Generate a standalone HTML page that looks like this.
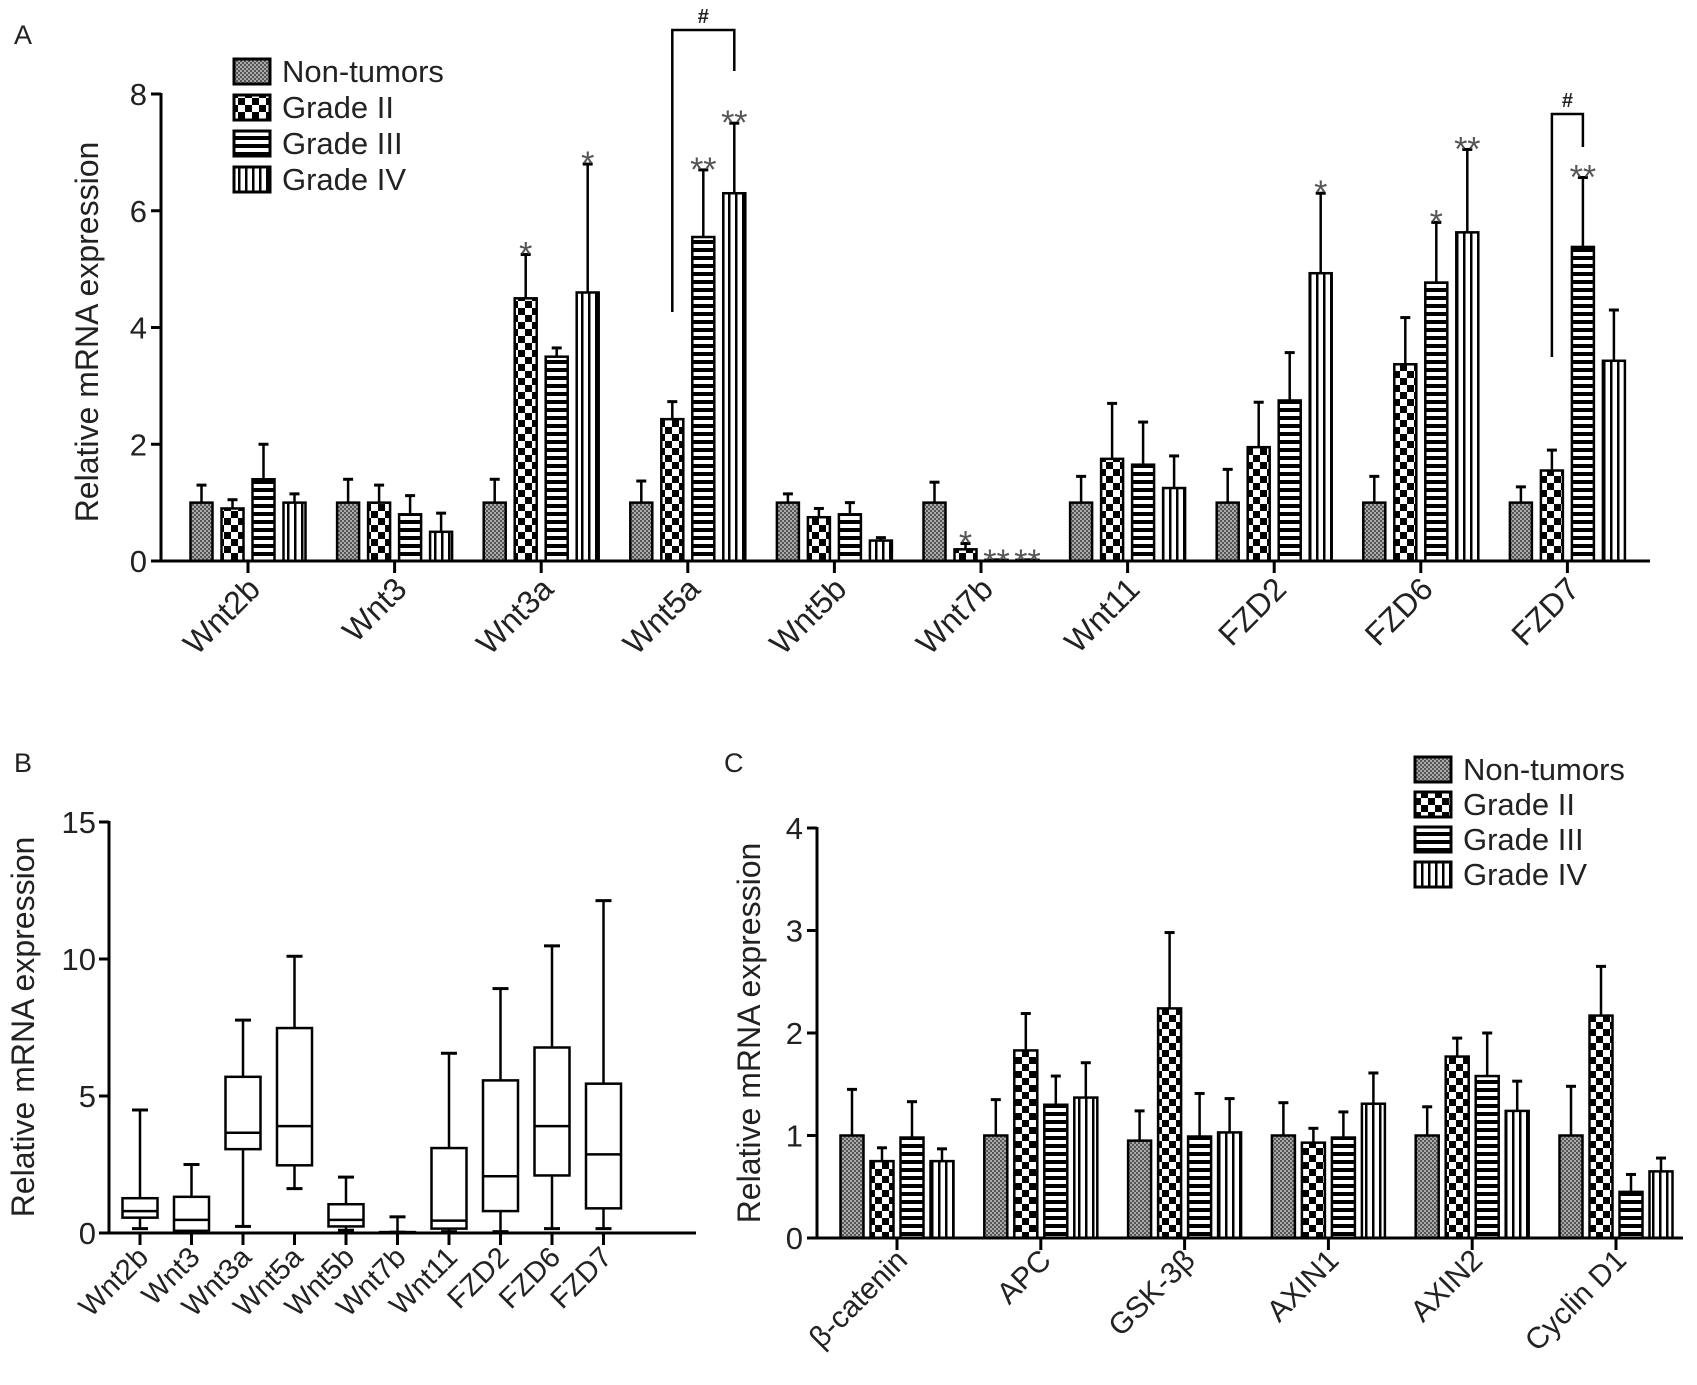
<!DOCTYPE html>
<html><head><meta charset="utf-8"><style>
html,body{margin:0;padding:0;background:#fff;overflow:hidden}
svg{display:block;font-family:"Liberation Sans",sans-serif}
</style></head><body>
<svg id="fig" width="1697" height="1385" viewBox="0 0 1697 1385" xmlns="http://www.w3.org/2000/svg">
<defs>
<pattern id="pNon" width="4" height="4" patternUnits="userSpaceOnUse"><rect width="4" height="4" fill="#aaa"/><rect width="2" height="2" fill="#555"/><rect x="2" y="2" width="2" height="2" fill="#555"/></pattern>
<pattern id="pG2" width="14" height="14" patternUnits="userSpaceOnUse"><rect width="14" height="14" fill="#fff"/><rect width="7" height="7" fill="#000"/><rect x="7" y="7" width="7" height="7" fill="#000"/></pattern>
<pattern id="pG3" width="8" height="8" patternUnits="userSpaceOnUse"><rect width="8" height="8" fill="#fff"/><rect y="0" width="8" height="4" fill="#000"/></pattern>
<pattern id="pG4" width="7" height="7" patternUnits="userSpaceOnUse"><rect width="7" height="7" fill="#fff"/><rect x="0" width="2.5" height="7" fill="#000"/></pattern>
</defs>
</svg>
<script>
// ---------- Panel A data ----------
const aCategories = ["Wnt2b","Wnt3","Wnt3a","Wnt5a","Wnt5b","Wnt7b","Wnt11","FZD2","FZD6","FZD7"];
const aNonTumors = [1.0,1.0,1.0,1.0,1.0,1.0,1.0,1.0,1.0,1.0];
const aNonTumorsErr = [1.3,1.4,1.4,1.37,1.15,1.35,1.45,1.57,1.45,1.27];
const aGrade2 = [0.9,1.0,4.5,2.43,0.75,0.2,1.75,1.95,3.37,1.55];
const aGrade2Err = [1.05,1.3,5.25,2.73,0.9,0.3,2.7,2.72,4.17,1.9];
const aGrade3 = [1.4,0.8,3.5,5.55,0.8,0.02,1.65,2.75,4.77,5.38];
const aGrade3Err = [2.0,1.12,3.65,6.7,1.0,0.02,2.38,3.57,5.8,6.57];
const aGrade4 = [1.0,0.5,4.6,6.3,0.35,0.02,1.25,4.93,5.63,3.43];
const aGrade4Err = [1.15,0.82,6.8,7.5,0.4,0.02,1.8,6.3,7.05,4.3];
const aStars2 = ["","","*","","","*","","","",""];
const aStars3 = ["","","","**","","**","","","*","**"];
const aStars4 = ["","","*","**","","**","","*","**",""];
const aTicks = [0,2,4,6,8];
// ---------- Panel B data ----------
const bCategories = ["Wnt2b","Wnt3","Wnt3a","Wnt5a","Wnt5b","Wnt7b","Wnt11","FZD2","FZD6","FZD7"];
const bMin = [0.16,0.02,0.24,1.62,0.1,0.03,0.05,0.05,0.16,0.16];
const bQ1 = [0.56,0.08,3.06,2.47,0.24,0.03,0.16,0.8,2.1,0.9];
const bMed = [0.8,0.48,3.66,3.9,0.48,0.03,0.45,2.07,3.9,2.87];
const bQ3 = [1.27,1.32,5.7,7.48,1.05,0.03,3.1,5.57,6.77,5.45];
const bMax = [4.49,2.5,7.77,10.1,2.04,0.59,6.56,8.92,10.48,12.13];
const bTicks = [0,5,10,15];
// ---------- Panel C data ----------
const cCategories = ["β-catenin","APC","GSK-3β","AXIN1","AXIN2","Cyclin D1"];
const cNonTumors = [1.0,1.0,0.95,1.0,1.0,1.0];
const cNonTumorsErr = [1.45,1.35,1.24,1.32,1.28,1.48];
const cGrade2 = [0.75,1.83,2.24,0.93,1.77,2.17];
const cGrade2Err = [0.88,2.19,2.98,1.07,1.95,2.65];
const cGrade3 = [0.98,1.3,0.99,0.98,1.58,0.45];
const cGrade3Err = [1.33,1.58,1.41,1.23,2.0,0.62];
const cGrade4 = [0.75,1.37,1.03,1.31,1.24,0.65];
const cGrade4Err = [0.87,1.71,1.36,1.61,1.53,0.78];
const cTicks = [0,1,2,3,4];
const legendLabels = ["Non-tumors","Grade II","Grade III","Grade IV"];

const NS="http://www.w3.org/2000/svg";
const svg=document.getElementById('fig');
function mk(tag,attrs,parent){const e=document.createElementNS(NS,tag);for(const k in attrs)e.setAttribute(k,attrs[k]);(parent||svg).appendChild(e);return e;}
function txt(s,attrs,parent){const e=mk('text',attrs,parent);e.textContent=s;return e;}
const fills=["url(#pNon)","url(#pG2)","url(#pG3)","url(#pG4)"];

function barPanel(o){
  const g=mk('g',{});
  
  
  const y=v=>o.y0-(v/o.ymax)*(o.y0-o.yTop);
  const xc=i=>o.first+i*o.step;
  const ya=mk('line',{x1:o.x0,y1:y(o.ymax)-1,x2:o.x0,y2:o.y0+1,stroke:'#000','stroke-width':3},g);
  
  o.ticks.forEach(t=>{
    mk('line',{x1:o.x0-10,y1:y(t),x2:o.x0,y2:y(t),stroke:'#000','stroke-width':3},g);
    const l=txt(String(t),{x:o.x0-14,y:y(t)+11,'font-size':o.fs,'text-anchor':'end',fill:'#222'},g);
    
  });
  const yt=txt("Relative mRNA expression",{x:o.titleX,y:o.titleY,'font-size':o.tfs,'text-anchor':'middle',fill:'#222',transform:`rotate(-90 ${o.titleX} ${o.titleY})`},g);
  
  o.series.forEach((s,si)=>{
    s.vals.forEach((v,i)=>{
      const cx=xc(i)+(si-1.5)*o.pitch;
      const top=y(v),et=y(s.err[i]);
      mk('line',{x1:cx,y1:et,x2:cx,y2:top,stroke:'#000','stroke-width':2.5},g);
      mk('line',{x1:cx-5,y1:et,x2:cx+5,y2:et,stroke:'#000','stroke-width':3},g);
      const r=mk('rect',{x:cx-o.bw/2,y:top,width:o.bw,height:Math.max(o.y0-top,1),fill:fills[si],stroke:'#000','stroke-width':2.5},g);
      
      
      if(s.stars&&s.stars[i]){
        const tiny=s.err[i]<0.1;
        const st=txt(s.stars[i],{x:cx,y:tiny?o.y0+12:et+11,'font-size':34,'text-anchor':'middle',fill:'#555'},g);
        
      }
    });
  });
  const xa=mk('line',{x1:o.x0-1,y1:o.y0,x2:o.xEnd,y2:o.y0,stroke:'#000','stroke-width':3},g);
  
  o.cats.forEach((c,i)=>{
    mk('line',{x1:xc(i),y1:o.y0,x2:xc(i),y2:o.y0+12,stroke:'#000','stroke-width':3},g);
    const lx=xc(i)+o.lblDx,ly=o.y0+o.lblDy;
    const l=txt(c,{x:lx,y:ly,'font-size':o.xfs,'text-anchor':'end',fill:'#222',transform:`rotate(-45 ${lx} ${ly})`},g);
    
  });
  return {g,y,xc};
}
function legend(x,y0,dy,g){
  legendLabels.forEach((s,i)=>{
    const r=mk('rect',{x:x,y:y0+i*dy-12,width:36,height:25,fill:fills[i],stroke:'#000','stroke-width':3},g);
    
    const t=txt(s,{x:x+48,y:y0+i*dy+11,'font-size':31,fill:'#222'},g);
    
  });
}
function panelLetter(s,x,y){const t=txt(s,{x:x,y:y,'font-size':27,fill:'#222'});}

// Panel A
const A=barPanel({name:'panel-a-chart',x0:161,y0:561,yTop:94,ymax:8,first:248,step:146.6,pitch:31,bw:22,xEnd:1650,
  ticks:aTicks,fs:31,tfs:32,xfs:32,titleX:98,titleY:332,lblDx:14,lblDy:30,cats:aCategories,
  series:[{vals:aNonTumors,err:aNonTumorsErr},{vals:aGrade2,err:aGrade2Err,stars:aStars2},{vals:aGrade3,err:aGrade3Err,stars:aStars3},{vals:aGrade4,err:aGrade4Err,stars:aStars4}]});
legend(234,71,36,A.g);
panelLetter('A',14,44);
function bracket(i1,s1,i2,s2,yb,y1,y2){
  const x1=A.xc(i1)+(s1-1.5)*31,x2=A.xc(i2)+(s2-1.5)*31;
  const p=mk('polyline',{points:`${x1},${y1} ${x1},${yb} ${x2},${yb} ${x2},${y2}`,fill:'none',stroke:'#000','stroke-width':2.5},A.g);
  
  const h=txt('#',{x:(x1+x2)/2,y:yb-7,'font-size':20,'font-weight':'bold','text-anchor':'middle',fill:'#222'},A.g);
  
}
bracket(3,1,3,3,30,312,71);
bracket(9,1,9,2,114,357,147);

// Panel B
(function(){
  const g=mk('g',{});
  
  
  const x0=109,y0=1233,yTop=822,ymax=15,first=140,step=51.5,bw=35;
  const y=v=>y0-(v/ymax)*(y0-yTop);const xc=i=>first+i*step;
  mk('line',{x1:x0,y1:yTop-1,x2:x0,y2:y0+1,stroke:'#000','stroke-width':3},g);
  bTicks.forEach(t=>{mk('line',{x1:x0-10,y1:y(t),x2:x0,y2:y(t),stroke:'#000','stroke-width':3},g);
    const l=txt(String(t),{x:x0-13,y:y(t)+11,'font-size':31,'text-anchor':'end',fill:'#222'},g);
    });
  const yt=txt("Relative mRNA expression",{x:34,y:1027,'font-size':32,'text-anchor':'middle',fill:'#222',transform:'rotate(-90 34 1027)'},g);
  
  bCategories.forEach((c,i)=>{
    const cx=xc(i);
    mk('line',{x1:cx,y1:y(bMax[i]),x2:cx,y2:y(bMin[i]),stroke:'#000','stroke-width':2.5},g);
    mk('line',{x1:cx-8,y1:y(bMax[i]),x2:cx+8,y2:y(bMax[i]),stroke:'#000','stroke-width':3},g);
    mk('line',{x1:cx-8,y1:y(bMin[i]),x2:cx+8,y2:y(bMin[i]),stroke:'#000','stroke-width':3},g);
    const r=mk('rect',{x:cx-bw/2,y:y(bQ3[i]),width:bw,height:Math.max(y(bQ1[i])-y(bQ3[i]),1),fill:'#fff',stroke:'#000','stroke-width':2.5},g);
    
    mk('line',{x1:cx-bw/2,y1:y(bMed[i]),x2:cx+bw/2,y2:y(bMed[i]),stroke:'#000','stroke-width':2.5},g);
    mk('line',{x1:cx,y1:y0,x2:cx,y2:y0+12,stroke:'#000','stroke-width':3},g);
    const lx=cx+10,ly=y0+26;
    const l=txt(c,{x:lx,y:ly,'font-size':29,'text-anchor':'end',fill:'#222',transform:`rotate(-45 ${lx} ${ly})`},g);
    
  });
  mk('line',{x1:x0-1,y1:y0,x2:696,y2:y0,stroke:'#000','stroke-width':3},g);
})();
panelLetter('B',14,772);

// Panel C
const C=barPanel({name:'panel-c-chart',x0:817,y0:1238,yTop:828,ymax:4,first:897,step:143.8,pitch:30,bw:23,xEnd:1683,
  ticks:cTicks,fs:31,tfs:32,xfs:30,titleX:760,titleY:1033,lblDx:12,lblDy:24,cats:cCategories,
  series:[{vals:cNonTumors,err:cNonTumorsErr},{vals:cGrade2,err:cGrade2Err},{vals:cGrade3,err:cGrade3Err},{vals:cGrade4,err:cGrade4Err}]});
legend(1415,769,35,C.g);
panelLetter('C',724,772);
</script>
</body></html>
